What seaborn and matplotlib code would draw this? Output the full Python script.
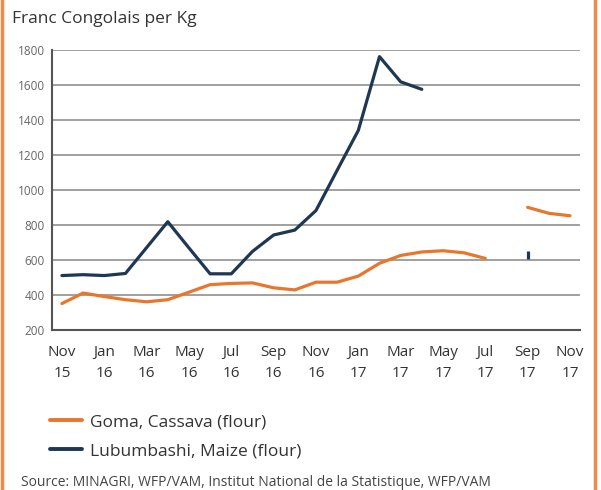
import numpy as np
import pandas as pd
import matplotlib.pyplot as plt
from matplotlib.lines import Line2D
import seaborn as sns

# Monthly index: 0 = Nov 2015 ... 24 = Nov 2017
month_idx = list(range(25))
tick_labels = ["Nov\n15", "Jan\n16", "Mar\n16", "May\n16", "Jul\n16", "Sep\n16", "Nov\n16",
               "Jan\n17", "Mar\n17", "May\n17", "Jul\n17", "Sep\n17", "Nov\n17"]

nan = np.nan
cassava = [350, 410, 390, 372, 360, 372, 415, 458, 465, 468, 440, 428, 472,
           472, 507, 580, 625, 645, 652, 640, 608, nan, 900, 866, 852]
maize = [510, 515, 510, 522, 670, 818, 668, 520, 520, 648, 742, 770, 882,
         1112, 1340, 1762, 1618, 1575, nan, nan, nan, nan, 630, nan, nan]

series_names = ["Goma, Cassava (flour)", "Lubumbashi, Maize (flour)"]
colors = {"Goma, Cassava (flour)": "#E8762D", "Lubumbashi, Maize (flour)": "#1E3754"}

# long-form table, split into segments at the gaps
rows = []
for name, vals in zip(series_names, [cassava, maize]):
    seg = 0
    for i, v in zip(month_idx, vals):
        if np.isnan(v):
            seg += 1
            continue
        rows.append({"series": name, "month": i, "price": v, "seg": seg})
df = pd.DataFrame(rows)
seg_size = df.groupby(["series", "seg"])["month"].transform("size")

sns.set_style("white")
plt.rcParams["font.family"] = ["Open Sans", "DejaVu Sans"]

fig = plt.figure(figsize=(6.01, 4.9), dpi=100)
ax = fig.add_axes([0.0865, 0.327, 0.8785, 0.571])

sns.lineplot(data=df, x="month", y="price", hue="series", units="seg", estimator=None,
             palette=colors, linewidth=2.3, ax=ax, legend=False, zorder=3)
# isolated single observations
sns.scatterplot(data=df[seg_size == 1], x="month", y="price", hue="series", palette=colors,
                marker="|", s=40, linewidth=2.3, ax=ax, legend=False, zorder=3)

ax.set_xlim(-0.47, 24.47)
ax.set_ylim(200, 1800)
ax.set_yticks(range(200, 1801, 200))
ax.set_xticks(range(0, 25, 2))
ax.set_xticks(range(1, 25, 2), minor=True)
ax.set_xticklabels(tick_labels, fontsize=11, color="#333333", linespacing=1.5)
ax.tick_params(axis="y", labelsize=8.5, colors="#666666", length=3, width=1, pad=2)
ax.tick_params(axis="x", which="both", direction="out", length=5, width=1.3,
               colors="#555555", pad=6, labelcolor="#333333")
ax.set_xlabel("")
ax.set_ylabel("")

ax.yaxis.grid(True, color="#999999", linewidth=1.3)
ax.set_axisbelow(True)
for side in ["top", "right"]:
    ax.spines[side].set_visible(False)
for side in ["left", "bottom"]:
    ax.spines[side].set_color("#555555")
    ax.spines[side].set_linewidth(1.5)

fig.text(0.02, 0.962, "Franc Congolais per Kg", fontsize=12.5, color="#333333", va="center")

handles = [Line2D([], [], color=colors[n], linewidth=2.8) for n in series_names]
fig.legend(handles, series_names, loc="upper left", bbox_to_anchor=(0.083, 0.155),
           frameon=False, fontsize=12.5, labelspacing=0.75, handlelength=1.85,
           handletextpad=0.45, borderpad=0, borderaxespad=0, labelcolor="#333333")

fig.text(0.035, 0.016, "Source: MINAGRI, WFP/VAM, Institut National de la Statistique, WFP/VAM",
         fontsize=10, color="#444444", va="center")

# orange frame edges
fig.add_artist(Line2D([0.004, 0.004], [0, 1], transform=fig.transFigure, color="#F08A4B", lw=2.5))
fig.add_artist(Line2D([0.99, 0.99], [0, 1], transform=fig.transFigure, color="#F08A4B", lw=2.5))

fig.savefig("out.png", dpi=100)
